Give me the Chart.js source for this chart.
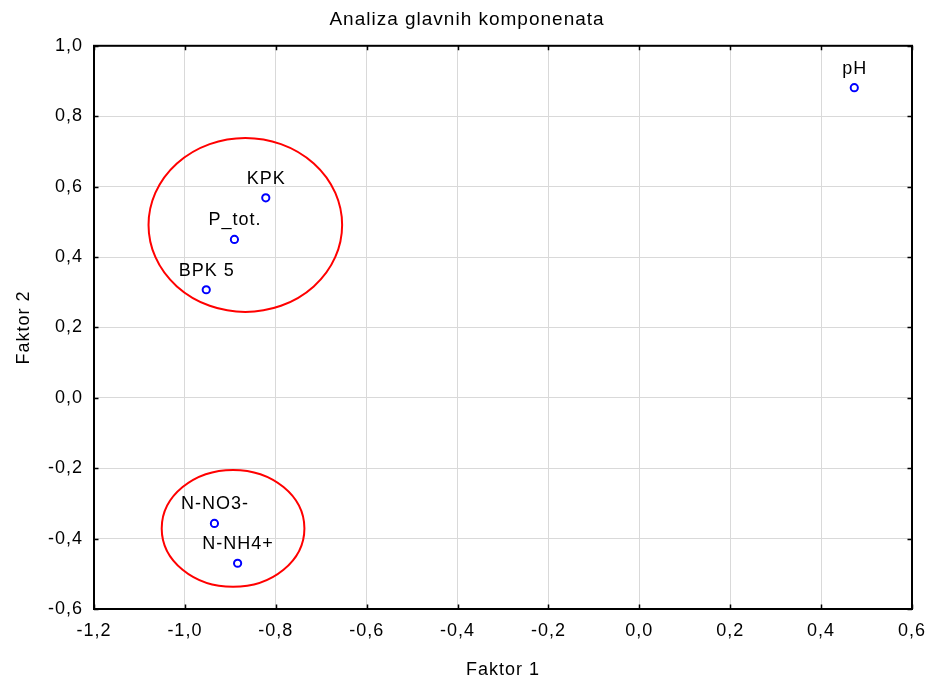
<!DOCTYPE html>
<html>
<head>
<meta charset="utf-8">
<script src="https://cdn.jsdelivr.net/npm/chart.js@4.4.0/dist/chart.umd.min.js"></script>
<style>
html,body{margin:0;padding:0;background:#fff;}
canvas{display:block;}
</style>
</head>
<body>
<canvas id="c" width="934" height="684"></canvas>
<script>
// ---- data ----
const variableNames = ['pH', 'KPK', 'P_tot.', 'BPK 5', 'N-NO3-', 'N-NH4+'];
const factor1 = [0.473, -0.822, -0.891, -0.953, -0.935, -0.884];
const factor2 = [0.881, 0.568, 0.450, 0.307, -0.357, -0.470];
const xTickLabels = ['-1,2', '-1,0', '-0,8', '-0,6', '-0,4', '-0,2', '0,0', '0,2', '0,4', '0,6'];
const yTickLabels = ['-0,6', '-0,4', '-0,2', '0,0', '0,2', '0,4', '0,6', '0,8', '1,0'];
// group ellipses (centre x, centre y, radius x, radius y) in data units
const ellipseCx = [-0.867, -0.894];
const ellipseCy = [0.491, -0.371];
const ellipseRx = [0.213, 0.157];
const ellipseRy = [0.247, 0.166];

const FONT = "'Liberation Sans', Arial, sans-serif";

const spacingPlugin = {
  id: 'spacing',
  beforeUpdate(chart) { chart.ctx.letterSpacing = '1px'; },
  beforeLayout(chart) { chart.ctx.letterSpacing = '1px'; },
  beforeDraw(chart) { chart.ctx.letterSpacing = '1px'; }
};

const ellipsePlugin = {
  id: 'ellipses',
  beforeDatasetsDraw(chart) {
    const {ctx, scales: {x, y}} = chart;
    ctx.save();
    ctx.strokeStyle = '#ff0000';
    ctx.lineWidth = 2;
    for (let i = 0; i < ellipseCx.length; i++) {
      const cx = x.getPixelForValue(ellipseCx[i]);
      const cy = y.getPixelForValue(ellipseCy[i]);
      const rx = Math.abs(x.getPixelForValue(ellipseCx[i] + ellipseRx[i]) - cx);
      const ry = Math.abs(y.getPixelForValue(ellipseCy[i] + ellipseRy[i]) - cy);
      ctx.beginPath();
      ctx.ellipse(cx, cy, rx, ry, 0, 0, Math.PI * 2);
      ctx.stroke();
    }
    ctx.restore();
  }
};

const framePlugin = {
  id: 'frame',
  afterDraw(chart) {
    const {ctx, chartArea: a, scales: {x, y}} = chart;
    ctx.save();
    ctx.strokeStyle = '#000';
    ctx.lineWidth = 2;
    ctx.strokeRect(a.left, a.top, a.right - a.left, a.bottom - a.top);
    ctx.lineWidth = 1.5;
    const L = 4.5;
    ctx.beginPath();
    x.ticks.forEach(t => {
      const px = Math.round(x.getPixelForValue(t.value)) + 0.5;
      ctx.moveTo(px, a.bottom); ctx.lineTo(px, a.bottom - L);
      ctx.moveTo(px, a.top); ctx.lineTo(px, a.top + L);
    });
    y.ticks.forEach(t => {
      const py = Math.round(y.getPixelForValue(t.value)) + 0.5;
      ctx.moveTo(a.left, py); ctx.lineTo(a.left + L, py);
      ctx.moveTo(a.right, py); ctx.lineTo(a.right - L, py);
    });
    ctx.stroke();
    ctx.restore();
  }
};

const labelPlugin = {
  id: 'pointLabels',
  afterDatasetsDraw(chart) {
    const {ctx} = chart;
    const meta = chart.getDatasetMeta(0);
    ctx.save();
    ctx.letterSpacing = '1px';
    ctx.font = '18px ' + FONT;
    ctx.fillStyle = '#000';
    ctx.textAlign = 'center';
    ctx.textBaseline = 'middle';
    meta.data.forEach((pt, i) => {
      ctx.fillText(variableNames[i], pt.x + 0.5, pt.y - 19);
    });
    ctx.restore();
  }
};

new Chart(document.getElementById('c'), {
  type: 'scatter',
  data: {
    datasets: [{
      data: factor1.map((v, i) => ({x: v, y: factor2[i]})),
      pointStyle: 'circle',
      pointRadius: 3.6,
      pointHoverRadius: 3.6,
      borderWidth: 2,
      borderColor: '#0000ff',
      backgroundColor: 'rgba(255,255,255,0)'
    }]
  },
  plugins: [spacingPlugin, ellipsePlugin, labelPlugin, framePlugin],
  options: {
    responsive: false,
    animation: false,
    events: [],
    layout: { padding: 0 },
    plugins: {
      legend: { display: false },
      tooltip: { enabled: false },
      title: {
        display: true,
        text: 'Analiza glavnih komponenata',
        color: '#000',
        font: { family: FONT, size: 19, weight: 'normal' },
        padding: { top: 8, bottom: 15 }
      }
    },
    scales: {
      x: {
        type: 'linear',
        min: -1.2, max: 0.6,
        afterFit(s) { s.height = 75; s.paddingLeft = 0; s.paddingRight = 0; },
        ticks: {
          stepSize: 0.2,
          padding: 11,
          color: '#000',
          font: { family: FONT, size: 18 },
          maxRotation: 0,
          callback: (v, i) => xTickLabels[i]
        },
        grid: { color: '#d9d9d9', lineWidth: 1, drawTicks: false, tickLength: 0 },
        border: { display: false },
        title: {
          display: true, text: 'Faktor 1', color: '#000',
          font: { family: FONT, size: 18 },
          padding: { top: 0, bottom: 3 }
        }
      },
      y: {
        type: 'linear',
        min: -0.6, max: 1.0,
        afterFit(s) { s.width = 94; s.paddingTop = 0; s.paddingBottom = 0; },
        ticks: {
          stepSize: 0.2,
          padding: 11,
          color: '#000',
          font: { family: FONT, size: 18 },
          callback: (v, i) => yTickLabels[i]
        },
        grid: { color: '#d9d9d9', lineWidth: 1, drawTicks: false, tickLength: 0 },
        border: { display: false },
        title: {
          display: true, text: 'Faktor 2', color: '#000',
          font: { family: FONT, size: 18 },
          padding: { top: 13, bottom: 0 }
        }
      },
      yRight: {
        type: 'linear',
        position: 'right',
        display: true,
        afterFit(s) { s.width = 22; s.paddingTop = 0; s.paddingBottom = 0; },
        ticks: { display: false },
        grid: { display: false, drawTicks: false, tickLength: 0 },
        border: { display: false },
        title: { display: false }
      }
    }
  }
});
</script>
</body>
</html>
